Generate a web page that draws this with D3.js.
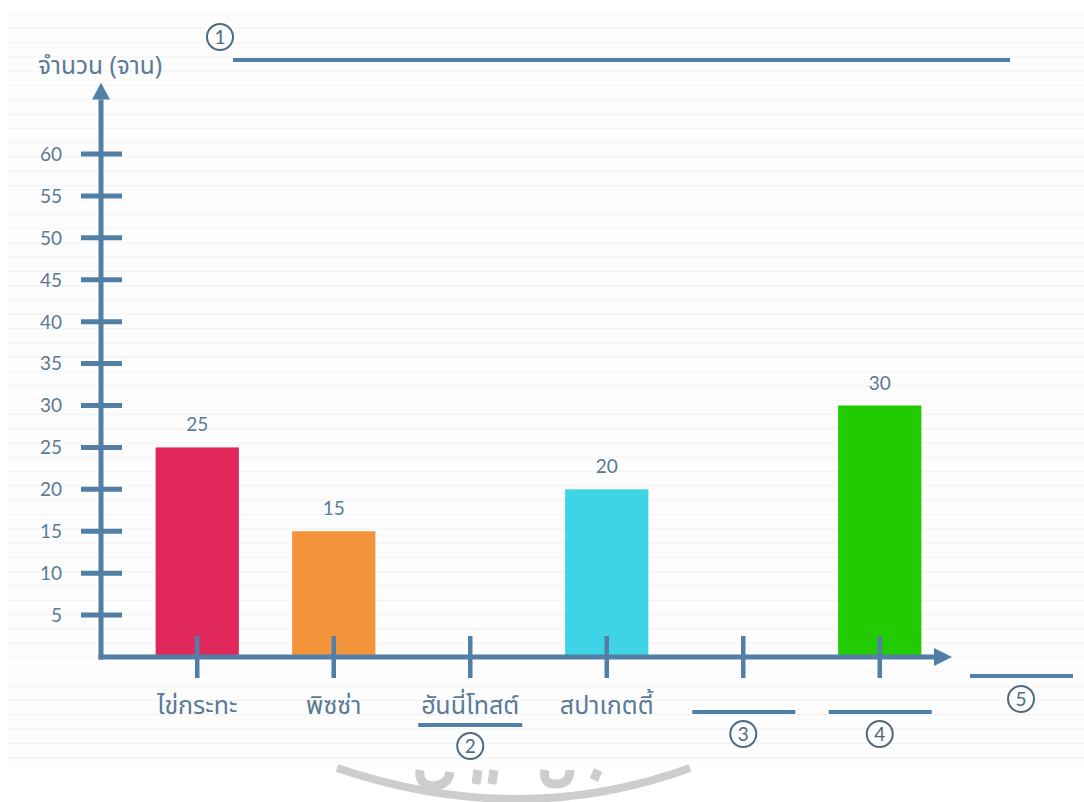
<!DOCTYPE html>
<html><head><meta charset="utf-8">
<script src="https://cdn.jsdelivr.net/npm/d3@7"></script>
<style>
body{margin:0;background:#fff;}
svg{display:block;}
text{font-family:"Noto Sans Thai","Noto Sans","Lato",sans-serif;}
</style></head><body>
<svg id="c" width="1084" height="802"></svg>
<script>
const categories = ["ไข่กระทะ", "พิซซ่า", "ฮันนี่โทสต์", "สปาเกตตี้", "", ""];
const values = [25, 15, null, 20, null, 30];
const barColors = ["#e0285d", "#f4943a", "none", "#3fd3e6", "none", "#22cb00"];
const yTicks = [5, 10, 15, 20, 25, 30, 35, 40, 45, 50, 55, 60];
const yTitle = "จำนวน (จาน)";
const blanks = [
  {num: "①", kind: "title"},
  {num: "②", kind: "under", idx: 2},
  {num: "③", kind: "blank", idx: 4},
  {num: "④", kind: "blank", idx: 5},
  {num: "⑤", kind: "xtitle"}
];

const axisColor = "#527fa5";
const textColor = "#5a7a96";
const svg = d3.select("#c");

// striped paper background
const bg = svg.append("g");
bg.append("rect").attr("x", 8).attr("y", 14).attr("width", 1076).attr("height", 754).attr("fill", "#fdfdfd");
d3.range(14, 768, 14.3).forEach(yy => {
  bg.append("line").attr("x1", 8).attr("x2", 1084).attr("y1", yy).attr("y2", yy)
    .attr("stroke", "#f4f4f4").attr("stroke-width", 1.2);
});

// watermark at bottom
const wm = svg.append("g").attr("fill", "none").attr("stroke", "#cdcdcd");
wm.append("path").attr("d", "M337,768 Q520,830 690,768").attr("stroke-width", 8);
wm.append("path").attr("d", "M420,770 Q418,784 432,786 Q448,786 450,772").attr("stroke-width", 9);
wm.append("path").attr("d", "M478,770 L476,784").attr("stroke-width", 9);
wm.append("path").attr("d", "M494,770 L492,784").attr("stroke-width", 9);
wm.append("path").attr("d", "M545,770 Q542,784 556,784 Q570,784 570,770").attr("stroke-width", 9);
wm.append("path").attr("d", "M598,770 L594,780").attr("stroke-width", 9);

const x = d3.scaleBand().domain(d3.range(categories.length)).range([129, 948]).paddingInner(0.39).paddingOuter(0.195);
const y = d3.scaleLinear().domain([0, 60]).range([657, 154]);
const cx = i => x(i) + x.bandwidth() / 2;

// bars
svg.append("g").selectAll("rect").data(values.map((v, i) => ({v, i})).filter(d => d.v != null))
  .join("rect")
  .attr("x", d => x(d.i)).attr("width", x.bandwidth())
  .attr("y", d => y(d.v)).attr("height", d => y(0) - y(d.v))
  .attr("fill", d => barColors[d.i]);

// value labels
svg.append("g").selectAll("text").data(values.map((v, i) => ({v, i})).filter(d => d.v != null))
  .join("text")
  .attr("x", d => cx(d.i)).attr("y", d => y(d.v) - 16)
  .attr("text-anchor", "middle").attr("fill", textColor)
  .style("font-family", "Lato, sans-serif").style("font-size", "19px")
  .text(d => d.v);

// y axis
const ax = svg.append("g");
const x0 = 101;
ax.append("line").attr("x1", x0).attr("x2", x0).attr("y1", y(0) + 2.5).attr("y2", y(66.5))
  .attr("stroke", axisColor).attr("stroke-width", 5);
ax.append("path").attr("d", `M${x0},${y(68.5)} L${x0 + 9},${y(66.5)} L${x0 - 9},${y(66.5)} Z`).attr("fill", axisColor);
ax.selectAll(".yt").data(yTicks).join("line")
  .attr("x1", x0 - 20).attr("x2", x0 + 21).attr("y1", d => y(d)).attr("y2", d => y(d))
  .attr("stroke", axisColor).attr("stroke-width", 5);
ax.selectAll(".yl").data(yTicks).join("text")
  .attr("x", 62).attr("y", d => y(d)).attr("dy", "0.36em").attr("text-anchor", "end")
  .attr("fill", textColor).style("font-family", "Lato, sans-serif").style("font-size", "19px")
  .text(d => d);

// x axis
ax.append("line").attr("x1", x0 - 2.5).attr("x2", 938).attr("y1", y(0)).attr("y2", y(0))
  .attr("stroke", axisColor).attr("stroke-width", 5);
ax.append("path").attr("d", `M952,${y(0)} L934,${y(0) - 9} L934,${y(0) + 9} Z`).attr("fill", axisColor);
ax.selectAll(".xt").data(categories.map((c, i) => i)).join("line")
  .attr("x1", cx).attr("x2", cx).attr("y1", y(0) - 21).attr("y2", y(0) + 21)
  .attr("stroke", axisColor).attr("stroke-width", 4.5);
ax.selectAll(".xl").data(categories.map((c, i) => ({c, i})).filter(d => d.c)).join("text")
  .attr("x", d => cx(d.i)).attr("y", 714).attr("text-anchor", "middle")
  .attr("fill", textColor).style("font-size", "25px")
  .text(d => d.c);

// y axis title
svg.append("text").attr("x", 38).attr("y", 74).attr("fill", textColor)
  .style("font-size", "24.5px").text(yTitle);

// fill-in blanks with circled numbers
function circled(px, py, label) {
  const g = svg.append("g");
  g.append("circle").attr("cx", px).attr("cy", py).attr("r", 13)
    .attr("fill", "none").attr("stroke", "#4f6a80").attr("stroke-width", 2);
  g.append("text").attr("x", px).attr("y", py).attr("dy", "0.36em").attr("text-anchor", "middle")
    .attr("fill", "#4f6a80").style("font-family", "Lato, sans-serif").style("font-size", "19px")
    .text(label);
}
const blankLine = (x1, x2, yy) => svg.append("line").attr("x1", x1).attr("x2", x2).attr("y1", yy).attr("y2", yy)
  .attr("stroke", axisColor).attr("stroke-width", 4);
const digit = s => String("①②③④⑤".indexOf(s) + 1);
blanks.forEach(b => {
  if (b.kind === "title") {
    blankLine(233, 1010, 60);
    circled(220, 37, digit(b.num));
  } else if (b.kind === "under") {
    blankLine(cx(b.idx) - 52, cx(b.idx) + 52, 725);
    circled(cx(b.idx), 746, digit(b.num));
  } else if (b.kind === "blank") {
    blankLine(cx(b.idx) - 51, cx(b.idx) + 52, 712);
    circled(cx(b.idx), 734, digit(b.num));
  } else {
    blankLine(970, 1073, 676);
    circled(1021, 699, digit(b.num));
  }
});
</script></body></html>
